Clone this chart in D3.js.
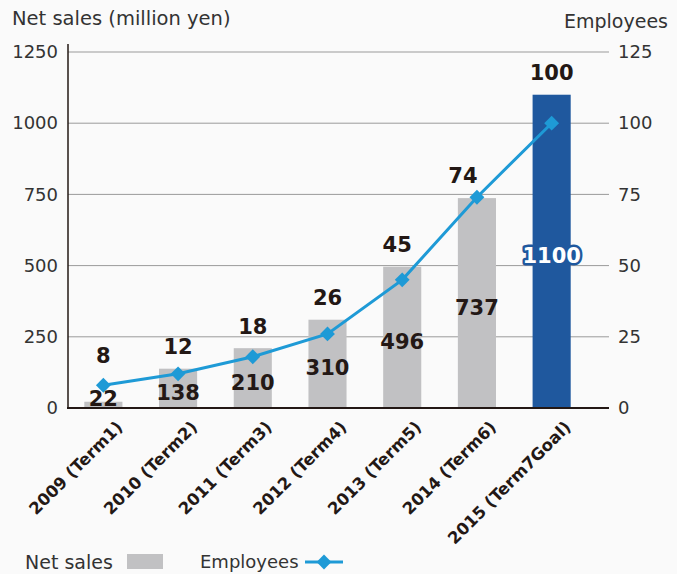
<!DOCTYPE html>
<html>
<head>
<meta charset="utf-8">
<script src="https://cdn.jsdelivr.net/npm/d3@7"></script>
<style>
  body { margin: 0; background: #fafafa; }
  svg { display: block; font-family: "DejaVu Sans", Verdana, sans-serif; }
</style>
</head>
<body>
<div id="chart"></div>
<script>
// chart data
var years = ["2009 (Term1)", "2010 (Term2)", "2011 (Term3)", "2012 (Term4)",
             "2013 (Term5)", "2014 (Term6)", "2015 (Term7Goal)"];
var netSales = [22, 138, 210, 310, 496, 737, 1100];
var employees = [8, 12, 18, 26, 45, 74, 100];
var salesTicks = [0, 250, 500, 750, 1000, 1250];
var employeeTicks = [0, 25, 50, 75, 100, 125];

var width = 677, height = 574;
var textColor = "#231815";

var svg = d3.select("#chart").append("svg")
    .attr("width", width)
    .attr("height", height);

svg.append("rect")
    .attr("width", width).attr("height", height)
    .attr("fill", "#fafafa");

// scales
var plotLeft = 68, plotRight = 609, plotTop = 52, plotBottom = 408;

var x = d3.scaleBand()
    .domain(years)
    .range([66, 589])
    .paddingInner(0.49)
    .paddingOuter(0.245);

var yL = d3.scaleLinear().domain([0, 1250]).range([plotBottom, plotTop]);
var yR = d3.scaleLinear().domain([0, 125]).range([plotBottom, plotTop]);

// grid lines
svg.append("g")
    .selectAll("line")
    .data(salesTicks.slice(1))
    .enter().append("line")
    .attr("x1", plotLeft).attr("x2", plotRight)
    .attr("y1", d => yL(d)).attr("y2", d => yL(d))
    .attr("stroke", "#9a9a9a")
    .attr("stroke-width", 1);

// left axis
var leftAxis = svg.append("g")
    .attr("transform", "translate(" + plotLeft + ",0)")
    .call(d3.axisLeft(yL).tickValues(salesTicks).tickFormat(d3.format("d")).tickSize(0).tickPadding(10));
leftAxis.select(".domain").remove();
leftAxis.selectAll("text")
    .attr("font-size", 18)
    .attr("font-family", "DejaVu Sans")
    .attr("fill", "#333");

// right axis
var rightAxis = svg.append("g")
    .attr("transform", "translate(" + plotRight + ",0)")
    .call(d3.axisRight(yR).tickValues(employeeTicks).tickFormat(d3.format("d")).tickSize(0).tickPadding(9));
rightAxis.select(".domain").remove();
rightAxis.selectAll("text")
    .attr("font-size", 18)
    .attr("font-family", "DejaVu Sans")
    .attr("fill", "#333");

// axis titles
svg.append("text")
    .attr("x", 12).attr("y", 25)
    .attr("font-size", 19.5)
    .attr("fill", "#333")
    .text("Net sales (million yen)");

svg.append("text")
    .attr("x", 668).attr("y", 28)
    .attr("text-anchor", "end")
    .attr("font-size", 19)
    .attr("fill", "#333")
    .text("Employees");

// bars
svg.append("g")
    .selectAll("rect")
    .data(netSales)
    .enter().append("rect")
    .attr("x", (d, i) => x(years[i]))
    .attr("width", x.bandwidth())
    .attr("y", d => yL(d))
    .attr("height", d => yL(0) - yL(d))
    .attr("fill", (d, i) => i == netSales.length - 1 ? "#1f589e" : "#c1c1c3");

// axis lines
svg.append("line")
    .attr("x1", plotLeft).attr("x2", plotLeft)
    .attr("y1", plotTop - 8).attr("y2", plotBottom)
    .attr("stroke", textColor).attr("stroke-width", 1.5);
svg.append("line")
    .attr("x1", plotLeft - 1).attr("x2", plotRight)
    .attr("y1", plotBottom).attr("y2", plotBottom)
    .attr("stroke", textColor).attr("stroke-width", 2);

// employees line
var cx = (d, i) => x(years[i]) + x.bandwidth() / 2;
var line = d3.line()
    .x(cx)
    .y(d => yR(d));

svg.append("path")
    .datum(employees)
    .attr("d", line)
    .attr("fill", "none")
    .attr("stroke", "#1e9ad6")
    .attr("stroke-width", 3);

var diamond = d3.symbol().type(d3.symbolSquare).size(110);
svg.append("g")
    .selectAll("path")
    .data(employees)
    .enter().append("path")
    .attr("d", diamond)
    .attr("transform", (d, i) => "translate(" + cx(d, i) + "," + yR(d) + ") rotate(45)")
    .attr("fill", "#1e9ad6");

// net sales labels, in the middle of the bar but not below the baseline
svg.append("g")
    .selectAll("text")
    .data(netSales)
    .enter().append("text")
    .attr("x", cx)
    .attr("y", d => Math.min((yL(d) + yL(0)) / 2 + 4, yL(0) - 10))
    .attr("dy", "0.36em")
    .attr("text-anchor", "middle")
    .attr("font-size", 21)
    .attr("font-weight", "bold")
    .attr("fill", (d, i) => i == netSales.length - 1 ? "#fff" : textColor)
    .attr("stroke", (d, i) => i == netSales.length - 1 ? "#1f589e" : "none")
    .attr("stroke-width", 5)
    .attr("stroke-linejoin", "round")
    .attr("paint-order", "stroke")
    .text(d => d);

// employee labels, above the bar top or the point
svg.append("g")
    .selectAll("text")
    .data(employees)
    .enter().append("text")
    .attr("x", (d, i) => cx(d, i) - (i == 5 ? 14 : i == 4 ? 5 : 0))
    .attr("y", (d, i) => Math.min(yL(netSales[i]), yR(d)) - 22 - (i == 0 ? 8 : 0))
    .attr("dy", "0.36em")
    .attr("text-anchor", "middle")
    .attr("font-size", 21)
    .attr("font-weight", "bold")
    .attr("fill", textColor)
    .text(d => d);

// category labels
svg.append("g")
    .selectAll("text")
    .data(years)
    .enter().append("text")
    .attr("transform", d => "translate(" + (x(d) + x.bandwidth() / 2 + 12) + "," + (plotBottom + 12) + ") rotate(-45)")
    .attr("text-anchor", "end")
    .attr("dy", "0.7em")
    .attr("font-size", 16.5)
    .attr("font-weight", "bold")
    .attr("fill", textColor)
    .text(d => d);

// legend
var legend = svg.append("g").attr("transform", "translate(0,562)");
legend.append("text")
    .attr("x", 25).attr("dy", "0.35em")
    .attr("font-size", 19).attr("fill", "#333")
    .text("Net sales");
legend.append("rect")
    .attr("x", 127).attr("y", -8)
    .attr("width", 36).attr("height", 15)
    .attr("fill", "#c1c1c3");
legend.append("text")
    .attr("x", 200).attr("dy", "0.35em")
    .attr("font-size", 18).attr("fill", "#333")
    .text("Employees");
legend.append("line")
    .attr("x1", 305).attr("x2", 343)
    .attr("stroke", "#1e9ad6").attr("stroke-width", 3);
legend.append("path")
    .attr("d", diamond)
    .attr("transform", "translate(324,0) rotate(45)")
    .attr("fill", "#1e9ad6");
</script>
</body>
</html>
